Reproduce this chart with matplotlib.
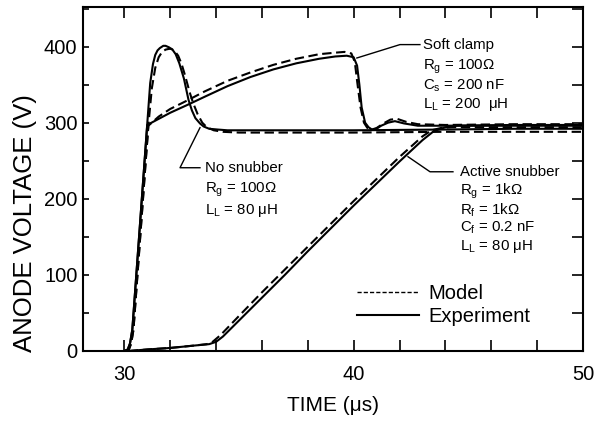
import matplotlib
matplotlib.use("Agg")
import matplotlib.pyplot as plt
from matplotlib.ticker import MultipleLocator
from matplotlib.lines import Line2D

plt.rcParams['font.family'] = ['Liberation Sans', 'DejaVu Sans']
plt.rcParams['mathtext.default'] = 'regular'

# ---------------- data (time in us, anode voltage in V) ----------------
ns_exp_t = [30.0, 30.15, 30.25, 30.35, 30.5, 30.7, 30.9, 31.0, 31.13, 31.25, 31.35, 31.45,
            31.55, 31.7, 31.8, 31.95, 32.1, 32.24, 32.4, 32.6, 32.8, 32.95, 33.1, 33.3,
            33.46, 33.7, 34.07, 34.5, 36, 40, 44, 47, 50]
ns_exp_v = [0, 2, 10, 28, 90, 173, 256, 298, 352, 377, 389, 395,
            398, 401, 401, 399, 396, 390, 378, 358, 330, 316, 306, 299,
            295, 292, 291, 290, 290, 290, 291, 292, 292]

ns_mod_t = [30.05, 30.2, 30.3, 30.4, 30.55, 30.75, 30.95, 31.05, 31.2, 31.35, 31.5, 31.65,
            31.8, 31.95, 32.05, 32.2, 32.35, 32.5, 32.65, 32.85, 33.0, 33.2, 33.4, 33.6,
            33.9, 34.3, 35, 36, 40, 44, 47, 50]
ns_mod_v = [0, 2, 10, 28, 90, 173, 256, 296, 345, 372, 386, 393,
            396, 397, 397, 394, 388, 377, 362, 340, 326, 311, 300, 294,
            290, 288, 287, 287, 287, 288, 288, 288]

sc_exp_t = [30.0, 30.15, 30.25, 30.35, 30.5, 30.7, 30.9, 31.0, 31.5, 32.0, 32.8, 33.5,
            34.5, 35.5, 36.5, 37.5, 38.5, 39.2, 39.7, 40.0, 40.15, 40.25, 40.35, 40.5,
            40.65, 40.8, 41.0, 41.2, 41.5, 41.8, 42.2, 42.8, 44, 47, 50]
sc_exp_v = [0, 2, 10, 28, 90, 173, 256, 297, 305, 313, 324, 334,
            348, 360, 370, 378, 384, 387, 388, 386, 375, 350, 320, 300,
            294, 291, 292, 296, 300, 302, 299, 296, 296, 297, 297]

sc_mod_t = [30.05, 30.2, 30.3, 30.4, 30.55, 30.75, 30.95, 31.05, 31.5, 32.0, 32.8, 33.5,
            34.5, 35.5, 36.5, 37.5, 38.5, 39.2, 39.6, 39.9, 40.05, 40.15, 40.3, 40.45,
            40.6, 40.8, 41.0, 41.3, 41.6, 41.9, 42.3, 42.8, 44, 47, 50]
sc_mod_v = [0, 2, 10, 28, 90, 173, 256, 296, 308, 318, 330, 341,
            355, 366, 376, 384, 390, 392, 393, 391, 380, 355, 320, 300,
            293, 291, 293, 299, 304, 305, 301, 298, 297, 298, 298]

as_exp_t = [30.2, 31, 32, 33, 33.7, 34.0, 34.3, 35, 36, 37, 38, 39, 40, 41, 42, 43,
            43.5, 44.0, 44.5, 45, 47, 50]
as_exp_v = [0, 2, 4, 7, 9, 12, 19, 40, 70, 100, 131, 161, 191, 220, 249, 277,
            289, 294, 296, 296, 296, 296]

as_mod_t = [30.2, 31, 32, 33, 33.6, 33.85, 34.2, 35, 36, 37, 38, 39, 40, 41, 42, 43,
            43.4, 43.8, 44.3, 45, 47, 50]
as_mod_v = [0, 2, 4, 7, 9, 12, 21, 46, 77, 107, 137, 167, 197, 226, 255, 282,
            290, 293, 294, 294, 294, 294]

x_major = [30, 40, 50]
y_major = [0, 100, 200, 300, 400]

# ---------------- figure ----------------
fig = plt.figure(figsize=(5.99, 4.26), dpi=100)
ax = fig.add_axes([83/599, 1-351/426, 500/599, 344/426])

lw = 1.5
dash = (0, (4.5, 2.2))
for t, v in [(ns_mod_t, ns_mod_v), (sc_mod_t, sc_mod_v), (as_mod_t, as_mod_v)]:
    ax.plot(t, v, color='black', lw=lw, ls=dash)
for t, v in [(ns_exp_t, ns_exp_v), (sc_exp_t, sc_exp_v), (as_exp_t, as_exp_v)]:
    ax.plot(t, v, color='black', lw=lw, ls='-')

ax.set_xlim(28.2, 50)
ax.set_ylim(0, 452)
ax.set_xticks(x_major)
ax.set_yticks(y_major)
ax.xaxis.set_minor_locator(MultipleLocator(2))
ax.yaxis.set_minor_locator(MultipleLocator(50))

for s in ax.spines.values():
    s.set_linewidth(1.5)

ax.tick_params(axis='x', which='both', direction='in', length=8, width=1.2,
               top=True, labelsize=14.5, pad=10)
ax.tick_params(axis='y', which='both', direction='in', length=4, width=1.2,
               right=True, labelsize=14.5, pad=4)
for tk in ax.yaxis.get_major_ticks() + ax.yaxis.get_minor_ticks():
    tk.tick2line.set_markersize(8)

ax.set_xlabel('TIME (μs)', fontsize=15)
ax.xaxis.set_label_coords(0.5, 1-(396-7)/344)
ax.set_ylabel('ANODE VOLTAGE (V)', fontsize=18.5)
ax.yaxis.set_label_coords((37-83)/500, 1-(223.5-7)/344)

# ---------------- annotations ----------------
fs = 10.8
def block(x, ys, lines):
    for y, s in zip(ys, lines):
        ax.text(x, y, s, fontsize=fs, ha='left', va='center')

# Soft clamp
ax.plot([40.14, 42.02, 42.89], [385, 402.6, 402.6], color='black', lw=1.0)
block(43.02, [402.6, 373.7, 348.7, 323.7],
      ['Soft clamp', 'R$_g$ = 100Ω', 'C$_s$ = 200 nF', 'L$_L$ = 200  μH'])

# No snubber
ax.plot([33.30, 32.43, 33.30], [293.4, 240.8, 240.8], color='black', lw=1.0)
block(33.52, [240.8, 211.8, 184.2],
      ['No snubber', 'R$_g$ = 100Ω', 'L$_L$ = 80 μH'])

# Active snubber
ax.plot([42.37, 43.33, 44.33], [255.3, 235.5, 235.5], color='black', lw=1.0)
block(44.63, [235.5, 209.2, 185.5, 161.8, 136.8],
      ['Active snubber', 'R$_g$ = 1kΩ', 'R$_f$ = 1kΩ', 'C$_f$ = 0.2 nF', 'L$_L$ = 80 μH'])

# legend
handles = [Line2D([], [], color='black', lw=1.0, ls=(0, (3, 1.5))),
           Line2D([], [], color='black', lw=1.5, ls='-')]
ax.legend(handles, ['Model', 'Experiment'], loc='center left',
          bbox_to_anchor=((357-83)/500, 1-(305-7)/344), frameon=False,
          borderpad=0, borderaxespad=0, handlelength=3.1, handletextpad=0.45,
          labelspacing=0.2, fontsize=14.5)

fig.savefig('out.png', dpi=100)
